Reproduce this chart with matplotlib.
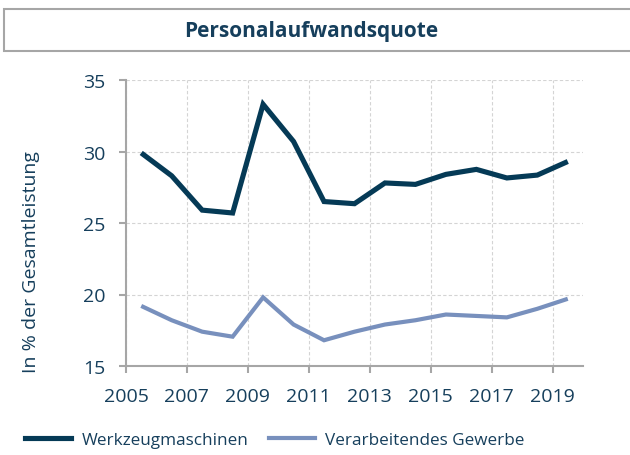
import matplotlib
matplotlib.use("Agg")
import matplotlib.pyplot as plt
from matplotlib.patches import Rectangle
from matplotlib.lines import Line2D
import numpy as np

years = list(range(2005, 2020))
werkzeug = [29.9, 28.3, 25.9, 25.7, 33.3, 30.7, 26.5, 26.35, 27.8, 27.7, 28.4, 28.75, 28.15, 28.35, 29.3]
verarb = [19.2, 18.2, 17.4, 17.05, 19.8, 17.9, 16.8, 17.4, 17.9, 18.2, 18.6, 18.5, 18.4, 19.0, 19.7]
tick_labels = ["2005", "2007", "2009", "2011", "2013", "2015", "2017", "2019"]
series_names = ["Werkzeugmaschinen", "Verarbeitendes Gewerbe"]

dark = "#053a56"
light = "#7890bd"
text_c = "#163f5c"
axis_c = "#a6a6a6"
grid_c = "#d4d4d4"

plt.rcParams['font.family'] = ['Open Sans', 'DejaVu Sans']

fig = plt.figure(figsize=(6.3, 4.56), dpi=100)
ax = fig.add_axes([126/630, 1-367/456, (583-126)/630, (367-81)/456])

x = np.arange(len(years)) + 0.5
ax.plot(x, werkzeug, color=dark, lw=3.7, solid_joinstyle='miter', solid_capstyle='butt')
ax.plot(x, verarb, color=light, lw=3.0, solid_joinstyle='miter', solid_capstyle='butt')

ax.set_xlim(0, len(years))
ax.set_ylim(15, 35)
ax.set_xticks(np.arange(0, len(years), 2))
ax.set_xticklabels(tick_labels)
ax.set_yticks([15, 20, 25, 30, 35])

for s in ['top', 'right']:
    ax.spines[s].set_visible(False)
for s in ['left', 'bottom']:
    ax.spines[s].set_color(axis_c)
    ax.spines[s].set_linewidth(1.5)

ax.tick_params(axis='both', colors=axis_c, labelcolor=text_c, labelsize=14, width=1.5, length=5)
ax.tick_params(axis='x', pad=10)
ax.tick_params(axis='y', pad=10)
ax.grid(True, color=grid_c, linestyle=(0, (3, 2)), linewidth=0.8)
ax.set_axisbelow(True)

ax.set_ylabel("In % der Gesamtleistung", color=text_c, fontsize=14)
ax.yaxis.set_label_coords((40-126)/457, (367-262)/286)

# title box (right edge runs off the image as in the reference)
fig.patches.append(Rectangle((4/630, 1-52/456), 640/630, 42/456, transform=fig.transFigure,
                             facecolor='white', edgecolor='#a6a6a6', linewidth=1.5))
fig.text(311/630, 1-31/456, "Personalaufwandsquote", ha='center', va='center',
         color=text_c, fontsize=15, fontweight='bold')

handles = [Line2D([], [], color=dark, lw=3.7), Line2D([], [], color=light, lw=3.0)]
fig.legend(handles, series_names, loc='center left', bbox_to_anchor=(25/630, 1-441/456), ncol=2,
           frameon=False, fontsize=12.3, labelcolor=text_c, handlelength=2.7, columnspacing=1.2,
           handletextpad=0.6, borderpad=0, borderaxespad=0)

fig.savefig("out.png", dpi=100)
